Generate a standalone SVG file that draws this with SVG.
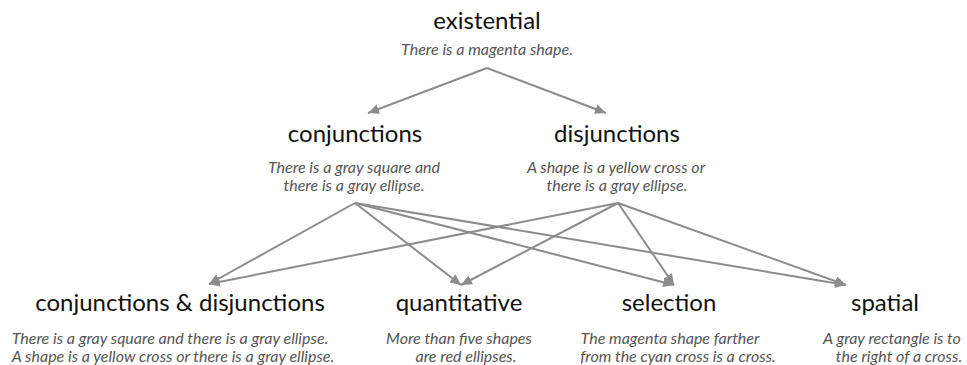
<svg xmlns="http://www.w3.org/2000/svg" width="967" height="365" viewBox="0 0 967 365">
<style>
.t{font-family:Lato,"Liberation Sans",sans-serif;font-size:24px;fill:#111;text-anchor:middle}
.s{font-family:Lato,"Liberation Sans",sans-serif;font-size:16px;font-style:italic;fill:#555;text-anchor:middle}
.e{stroke:#8c8c8c;stroke-width:2;fill:none;marker-end:url(#ah)}
</style>
<defs>
<marker id="ah" markerUnits="userSpaceOnUse" markerWidth="12" markerHeight="10" viewBox="0 0 12 10" refX="11" refY="5" orient="auto">
<path d="M0,0 L11,5 L0,10 z" fill="#8c8c8c"/>
</marker>
</defs>
<g id="connectors">
<line class="e" x1="487" y1="68" x2="368" y2="113"/>
<line class="e" x1="487" y1="68" x2="606" y2="113"/>
<line class="e" x1="355" y1="203" x2="209" y2="284"/>
<line class="e" x1="355" y1="203" x2="461" y2="285"/>
<line class="e" x1="355" y1="203" x2="674" y2="285"/>
<line class="e" x1="355" y1="203" x2="846" y2="285"/>
<line class="e" x1="618" y1="203" x2="209" y2="284"/>
<line class="e" x1="618" y1="203" x2="461" y2="285"/>
<line class="e" x1="618" y1="203" x2="674" y2="285"/>
<line class="e" x1="618" y1="203" x2="846" y2="285"/>
</g>
<g id="existential">
<text class="t" x="487" y="29">existential</text>
<text class="s" x="487" y="55">There is a magenta shape.</text>
</g>
<g id="conjunctions">
<text class="t" x="355" y="142">conjunctions</text>
<text class="s" x="354" y="173">There is a gray square and</text>
<text class="s" x="354" y="191">there is a gray ellipse.</text>
</g>
<g id="disjunctions">
<text class="t" x="617" y="142">disjunctions</text>
<text class="s" x="616" y="173">A shape is a yellow cross or</text>
<text class="s" x="617" y="191">there is a gray ellipse.</text>
</g>
<g id="conjunctions-disjunctions">
<text class="t" x="180" y="311">conjunctions &amp; disjunctions</text>
<text class="s" x="170" y="344">There is a gray square and there is a gray ellipse.</text>
<text class="s" x="173" y="362">A shape is a yellow cross or there is a gray ellipse.</text>
</g>
<g id="quantitative">
<text class="t" x="459" y="311">quantitative</text>
<text class="s" x="459" y="344">More than five shapes</text>
<text class="s" x="466" y="362">are red ellipses.</text>
</g>
<g id="selection">
<text class="t" x="669" y="311">selection</text>
<text class="s" x="670" y="344">The magenta shape farther</text>
<text class="s" x="678" y="362">from the cyan cross is a cross.</text>
</g>
<g id="spatial">
<text class="t" x="885" y="311">spatial</text>
<text class="s" x="892" y="344">A gray rectangle is to</text>
<text class="s" x="899" y="362">the right of a cross.</text>
</g>
</svg>
